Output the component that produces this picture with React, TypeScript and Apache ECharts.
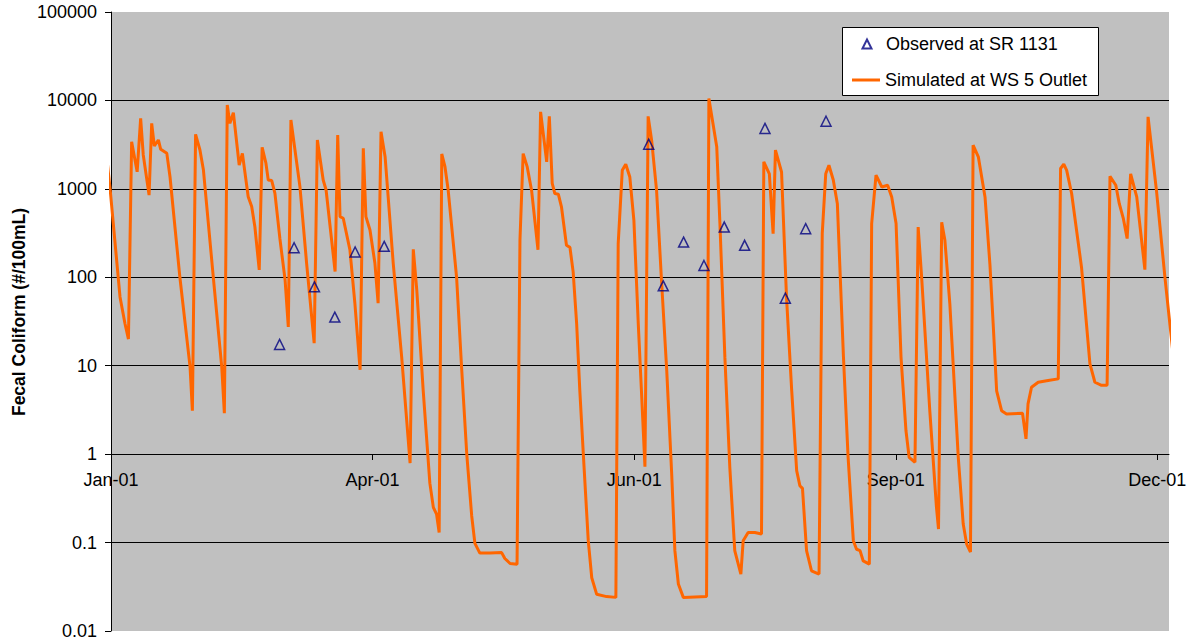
import React, { useEffect, useRef } from 'react';
import * as echarts from 'echarts';

// Simulated series: day of year 2001 (0 = Jan 1) and value (#/100mL)
const simDays = [
  -1.7, -0.3, 3.1, 4.8, 6.0, 7.1, 9.0, 10.2, 11.1, 13.1, 14.0, 14.9, 16.3, 17.1, 19.2, 20.3, 23.7, 27.2, 28.0,
  29.1, 30.6, 31.8, 35.2, 38.1, 39.0, 40.0, 40.9, 42.1, 44.1, 45.2, 47.2, 48.4, 49.5, 51.0, 52.0, 53.3, 54.1,
  55.3, 56.4, 58.1, 59.9, 61.0, 61.9, 65.0, 67.3, 69.9, 71.0, 73.0, 74.0, 77.1, 78.0, 78.8, 79.9, 82.2, 83.9,
  85.7, 86.8, 87.7, 89.1, 90.8, 91.9, 92.9, 94.3, 97.1, 100.0, 102.9, 104.0, 105.2, 107.4, 109.7, 110.9, 112.0,
  112.9, 113.8, 114.9, 116.0, 118.9, 120.6, 122.4, 124.1, 125.2, 126.9, 130.4, 134.4, 135.5, 137.3, 139.7,
  140.7, 141.8, 143.2, 144.7, 146.9, 147.8, 149.9, 150.8, 151.8, 152.7, 153.9, 155.0, 156.7, 157.9, 159.0,
  160.2, 161.3, 162.5, 164.2, 165.4, 167.1, 170.5, 173.7, 174.5, 175.9, 177.1, 178.5, 179.9, 181.4, 182.6,
  183.7, 184.8, 186.0, 187.7, 189.4, 191.2, 192.9, 194.0, 195.2, 196.9, 204.9, 205.7, 208.4, 209.5, 211.2,
  212.9, 214.6, 216.7, 217.5, 219.2, 221.5, 223.8, 224.6, 226.5, 227.8, 228.6, 230.7, 232.4, 234.2, 235.9,
  237.0, 237.9, 239.3, 241.0, 243.6, 244.7, 245.9, 247.0, 248.5, 249.9, 252.0, 253.6, 255.4, 256.5, 257.7,
  258.8, 260.9, 261.7, 263.2, 265.2, 267.2, 268.6, 270.1, 271.8, 273.5, 274.6, 276.6, 277.7, 278.9, 281.7,
  284.0, 284.7, 285.8, 286.9, 288.6, 291.5, 293.2, 294.4, 295.7, 296.6, 298.4, 300.7, 302.4, 303.5, 304.7,
  306.4, 308.1, 313.6, 314.8, 315.5, 316.7, 319.0, 322.4, 325.9, 326.7, 327.8, 328.8, 330.5, 333.9, 336.8,
  338.5, 340.8, 342.7, 343.7, 345.7, 346.9, 348.3, 349.6, 350.8, 352.9, 355.7, 356.8, 359.7, 362.6, 365.5,
];
const simValues = [
  2700, 990, 60, 30, 20, 3400, 1560, 6280, 2420, 850, 5510, 3050, 3570, 2800, 2520, 1370, 100, 9.7, 3.1,
  4140, 2750, 1630, 100, 9.7, 2.9, 8870, 5500, 7270, 1860, 2520, 815, 630, 373, 121, 2950, 1950, 1260,
  1240, 890, 275, 93, 27.5, 6000, 1060, 144, 18, 3570, 1260, 970, 116, 4060, 485, 465, 204, 51,
  9, 2880, 485, 343, 144, 51, 4430, 2310, 144, 12.6, 0.79, 207, 72, 5.3, 0.47, 0.25, 0.21,
  0.13, 2480, 1780, 970, 100, 9.8, 1.0, 0.2, 0.098, 0.076, 0.076, 0.077, 0.066, 0.058, 0.057,
  262, 2500, 1770, 960, 205, 7430, 2020, 6600, 1150, 885, 870, 620, 230, 218, 115,
  30, 5.2, 1.0, 0.105, 0.04, 0.026, 0.0245, 0.024, 240, 1620, 1900, 1360, 440, 30, 4.4,
  0.72, 6600, 3550, 960, 92, 8.8, 0.6, 0.081, 0.034, 0.024, 0.0245, 10500, 3000, 405, 12.5,
  0.71, 0.081, 0.044, 0.105, 0.13, 0.13, 0.125, 2020, 1480, 312, 2740, 1550, 60, 5.2, 0.65,
  0.44, 0.41, 0.081, 0.048, 0.044, 312, 1480, 1850, 1260, 680, 12.5, 0.92, 0.105, 0.084, 0.081,
  0.062, 0.057, 405, 1430, 1050, 1100, 810, 405, 12.5, 1.85, 0.92, 0.81, 370, 100, 3.1,
  0.25, 0.142, 420, 262, 50, 0.92, 0.162, 0.096, 0.078, 3120, 2300, 810, 138, 30, 5.2,
  3.1, 2.85, 2.9, 1.49, 3.7, 5.7, 6.5, 6.8, 7.1, 1700, 1900, 1620, 885, 130, 10.5,
  6.5, 6.0, 6.0, 1390, 1100, 680, 460, 274, 1480, 810, 122, 6530, 950, 100, 12.5,
];

// Observed samples
const obsDays = [58, 63, 70, 77, 84, 94, 185, 190, 197, 204, 211, 218, 225, 232, 239, 246];
const obsValues = [17.4, 216, 78, 35.5, 193, 224, 3200, 80, 250, 136, 370, 230, 4820, 58, 355, 5820];

const xTickDays = [0, 90, 180, 270, 360];
const xTickLabels = ['Jan-01', 'Apr-01', 'Jun-01', 'Sep-01', 'Dec-01'];
const yTickLabels = ['0.01', '0.1', '1', '10', '100', '1000', '10000', '100000'];

const seriesNames = ['Observed at SR 1131', 'Simulated at WS 5 Outlet'];
const yTitle = 'Fecal Coliform (#/100mL)';

// legend icon: small triangle centred in a 28 x 9 box
const triangleIcon = 'path://M0,0 M28,9 M9.5,9 L14,0 L18.5,9 Z';

export default function App() {
  const ref = useRef<HTMLDivElement>(null);
  useEffect(() => {
    document.body.style.margin = '0';
    const chart = echarts.init(ref.current as HTMLDivElement, null, { renderer: 'svg' });
    const font = "'Liberation Sans', Arial, sans-serif";
    const legendText = { fontSize: 18, color: '#000', fontFamily: font };
    chart.setOption({
      animation: false,
      backgroundColor: '#ffffff',
      textStyle: { fontFamily: font },
      grid: {
        left: 111,
        right: 21,
        top: 12,
        bottom: 11,
        show: true,
        backgroundColor: '#C0C0C0',
        borderWidth: 0,
      },
      legend: [
        {
          left: 852,
          top: 35,
          padding: 0,
          itemWidth: 28,
          itemHeight: 9,
          textStyle: legendText,
          data: [{ name: seriesNames[0], icon: triangleIcon }],
          z: 5,
        },
        {
          left: 852,
          top: 71,
          padding: 0,
          itemWidth: 28,
          itemHeight: 3,
          textStyle: legendText,
          data: [{ name: seriesNames[1], icon: 'rect' }],
          z: 5,
        },
      ],
      xAxis: {
        type: 'value',
        min: 0,
        max: 364,
        interval: 90,
        offset: -177,
        axisLine: { show: true, onZero: false, lineStyle: { color: '#000', width: 1 } },
        axisTick: { show: true, customValues: xTickDays, length: 6, lineStyle: { color: '#000' } },
        axisLabel: {
          customValues: xTickDays,
          margin: 17,
          fontSize: 18,
          color: '#000',
          fontFamily: font,
          formatter: (v: number) => {
            const i = xTickDays.indexOf(Math.round(v));
            return i >= 0 ? xTickLabels[i] : '';
          },
        },
        splitLine: { show: false },
      },
      yAxis: {
        type: 'log',
        logBase: 10,
        min: 0.01,
        max: 100000,
        splitNumber: 7,
        axisLine: { show: true, onZero: false, lineStyle: { color: '#000', width: 1 } },
        axisTick: { show: true, length: 6, lineStyle: { color: '#000' } },
        axisLabel: {
          margin: 14,
          fontSize: 18,
          color: '#000',
          fontFamily: font,
          formatter: (v: number) => {
            const i = Math.round(Math.log10(v)) + 2;
            return yTickLabels[i] ?? '';
          },
        },
        splitLine: {
          show: true,
          showMinLine: false,
          showMaxLine: false,
          lineStyle: { color: '#000', width: 1 },
        },
      },
      graphic: [
        {
          type: 'rect',
          z: 4,
          shape: { x: 842.5, y: 27.5, width: 256, height: 68 },
          style: { fill: '#ffffff', stroke: '#000000', lineWidth: 1 },
        },
        {
          type: 'text',
          x: 19,
          y: 312,
          rotation: Math.PI / 2,
          style: {
            text: yTitle,
            font: `bold 17.5px ${font}`,
            fill: '#000',
            align: 'center',
            verticalAlign: 'middle',
          },
        },
      ],
      series: [
        {
          name: seriesNames[1],
          type: 'line',
          data: simDays.map((d, i) => [d, simValues[i]]),
          symbol: 'none',
          clip: false,
          lineStyle: { color: '#FF6600', width: 3 },
          itemStyle: { color: '#FF6600' },
          z: 2,
        },
        {
          name: seriesNames[0],
          type: 'scatter',
          data: obsDays.map((d, i) => [d, obsValues[i]]),
          symbol: 'triangle',
          symbolSize: 10,
          itemStyle: { color: 'rgba(0,0,0,0)', borderColor: '#000080', borderWidth: 1.5 },
          z: 3,
        },
      ],
    });
    return () => chart.dispose();
  }, []);
  return <div ref={ref} style={{ width: 1190, height: 642 }} />;
}
